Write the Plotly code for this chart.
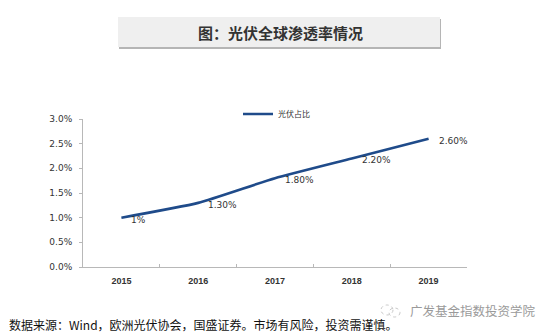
import plotly.graph_objects as go

years = ["2015", "2016", "2017", "2018", "2019"]
share = [0.010, 0.013, 0.018, 0.022, 0.026]
labels = ["1%", "1.30%", "1.80%", "2.20%", "2.60%"]
series_name = "光伏占比"
title_text = "图：光伏全球渗透率情况"
source_text = "数据来源：Wind，欧洲光伏协会，国盛证券。市场有风险，投资需谨慎。"
watermark_text = "广发基金指数投资学院"

W, H = 556, 336
L, R, T, B = 83, 467, 119, 267

def px(x):
    return (x - L) / (R - L)

def py(y):
    return (B - y) / (B - T)

fig = go.Figure()
fig.add_trace(go.Scatter(
    x=years, y=share, name=series_name,
    mode="lines",
    line=dict(color="#1f4b8a", width=2.6, shape="spline", smoothing=0.5),
    cliponaxis=False,
))

for i, (v, lab) in enumerate(zip(share, labels)):
    fig.add_annotation(x=i, y=v, xref="x", yref="y", text=lab, showarrow=False,
                       xanchor="left", yanchor="middle", xshift=8, yshift=-2,
                       font=dict(family="DejaVu Sans", size=9, color="#333333"))

fig.update_layout(
    width=W, height=H,
    margin=dict(l=L, r=W - R, t=T, b=H - B),
    paper_bgcolor="white", plot_bgcolor="white",
    showlegend=True,
    legend=dict(x=px(238), y=py(114), xanchor="left", yanchor="middle",
                font=dict(family="Noto Sans CJK SC", size=8, color="#333333"),
                bgcolor="rgba(0,0,0,0)", itemwidth=30),
    xaxis=dict(
        type="category", showgrid=False, showline=True, linecolor="#b8b8b8", linewidth=1,
        ticks="inside", ticklen=3, tickcolor="#b8b8b8", tickson="boundaries",
        tickfont=dict(family="Liberation Sans", size=9, color="#333333", weight="bold"),
        ticklabelstandoff=5,
        range=[-0.5, 4.5], fixedrange=True,
    ),
    yaxis=dict(
        range=[0, 0.03], dtick=0.005, tickformat=".1%",
        showgrid=False, showline=True, linecolor="#b8b8b8", linewidth=1,
        ticks="outside", ticklen=3, tickcolor="#b8b8b8",
        tickfont=dict(family="DejaVu Sans", size=9, color="#333333"),
        ticklabelstandoff=5, zeroline=False, fixedrange=True,
    ),
)

# Title box with shadow
fig.add_shape(type="rect", xref="paper", yref="paper",
              x0=px(119), x1=px(441), y0=py(49), y1=py(19),
              fillcolor="#b5b5b5", line=dict(width=0), layer="below")
fig.add_shape(type="rect", xref="paper", yref="paper",
              x0=px(118), x1=px(440), y0=py(47), y1=py(17),
              fillcolor="#efefef", line=dict(width=0), layer="below")
fig.add_annotation(xref="paper", yref="paper", x=px(280), y=py(33),
                   text="<b>" + title_text + "</b>", showarrow=False,
                   font=dict(family="Noto Sans CJK SC", size=15, color="#333333"),
                   xanchor="center", yanchor="middle")

# Footer source
fig.add_annotation(xref="paper", yref="paper", x=px(7), y=py(324),
                   text=source_text, showarrow=False,
                   font=dict(family="Noto Sans CJK SC", size=12, color="#111111"),
                   xanchor="left", yanchor="middle")

# Watermark
fig.add_annotation(xref="paper", yref="paper", x=px(408), y=py(310),
                   text=watermark_text, showarrow=False,
                   font=dict(family="Noto Sans CJK SC", size=12.5, color="#9a9a9a"),
                   xanchor="left", yanchor="middle")
fig.add_shape(type="circle", xref="paper", yref="paper",
              x0=px(381), x1=px(393), y0=py(315), y1=py(305),
              line=dict(color="#c8c8c8", width=1, dash="dot"))
fig.add_shape(type="circle", xref="paper", yref="paper",
              x0=px(389), x1=px(400), y0=py(317), y1=py(308),
              line=dict(color="#c8c8c8", width=1, dash="dot"))

fig.write_html("out.html")
